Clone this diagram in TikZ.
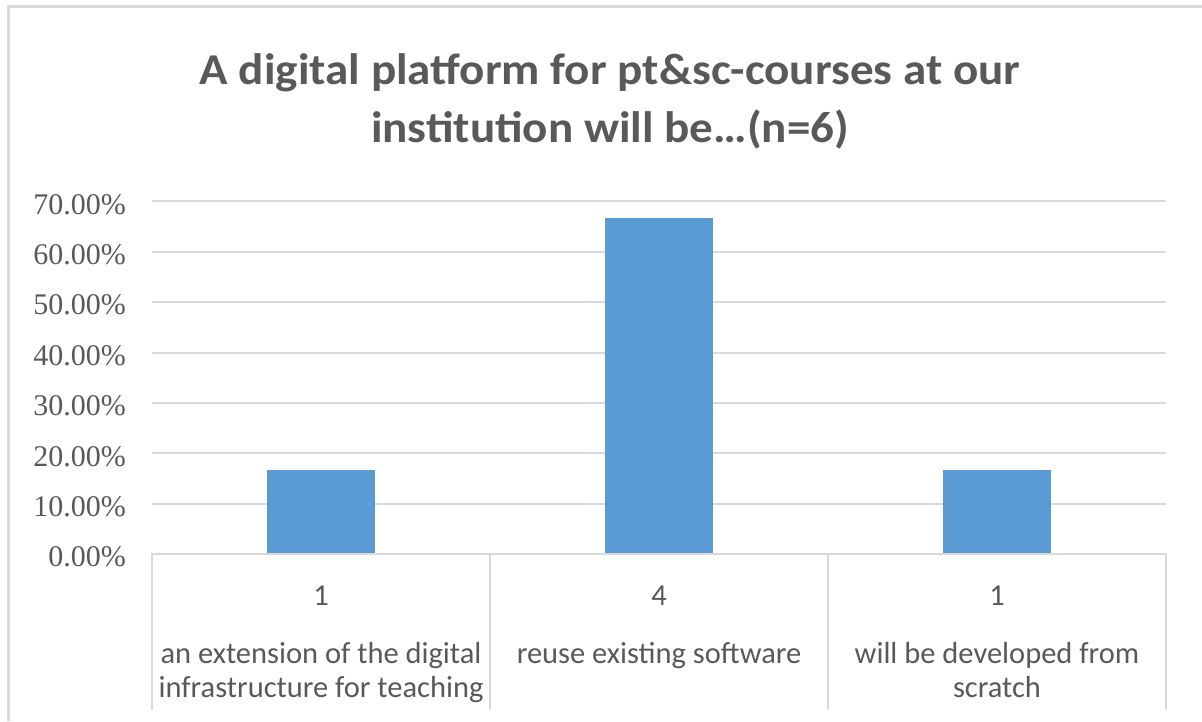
\documentclass[tikz,border=0pt]{standalone}
\usepackage{fontspec}
\setmainfont{Liberation Serif}
\newfontfamily\calibri{Carlito}
\definecolor{txtgray}{HTML}{595959}
\definecolor{gridgray}{HTML}{D9D9D9}
\definecolor{barblue}{HTML}{5B9BD5}

\begin{document}
\begin{tikzpicture}[x=1pt, y=-1pt,
      every node/.style = {text=txtgray, inner sep=0pt},
      title/.style = {anchor=base, font=\calibri\bfseries\fontsize{44}{48}\selectfont,
        xscale=1.07, transform shape},
      ylabel/.style = {anchor=east, font=\fontsize{30}{32}\selectfont},
      catnum/.style = {anchor=base, font=\calibri\fontsize{30.5}{34}\selectfont},
      catlabel/.style = {anchor=base, align=center, font=\calibri\fontsize{30.5}{34}\selectfont},
      gridline/.style = {draw=gridgray, line width=2pt},
      bar/.style = {fill=barblue}]
  \useasboundingbox (0,0) rectangle (1202,721);
  % chart frame
  \draw[gridgray, line width=3pt] (8,721) -- (8,6) -- (1202,6);
  \node[title] (title1) at (610,84) {A digital platform for pt\&sc-courses at our};
  \node[title] (title2) at (610,142) {institution will be…(n=6)};
  % grid and y labels
  \foreach \p in {0,...,7} {
    \draw[gridline] (152,554-50.36*\p) -- (1166,554-50.36*\p);
    \node[ylabel] (ytick\p) at (126,557-50.36*\p) {\the\numexpr10*\p\relax.00\%};
  }
  % bars
  \foreach \c/\v [count=\i] in {321/16.67, 659/66.67, 997/16.67}
    \fill[bar] (\c-53.8,554) rectangle (\c+53.8,554-5.036*\v);
  % category table
  \draw[gridline] (152,710) -- (152,554) -- (1166,554) -- (1166,710);
  \foreach \x in {490,828}
    \draw[gridline] (\x,554) -- (\x,710);
  \node[catnum] (num1) at (321,605) {1};
  \node[catnum] (num2) at (659,605) {4};
  \node[catnum] (num3) at (997,605) {1};
  \node[catlabel] (cat1) at (321,697) {an extension of the digital\\infrastructure for teaching};
  \node[catlabel] (cat2) at (659,663) {reuse existing software};
  \node[catlabel] (cat3) at (997,697) {will be developed from\\scratch};
\end{tikzpicture}
\end{document}
